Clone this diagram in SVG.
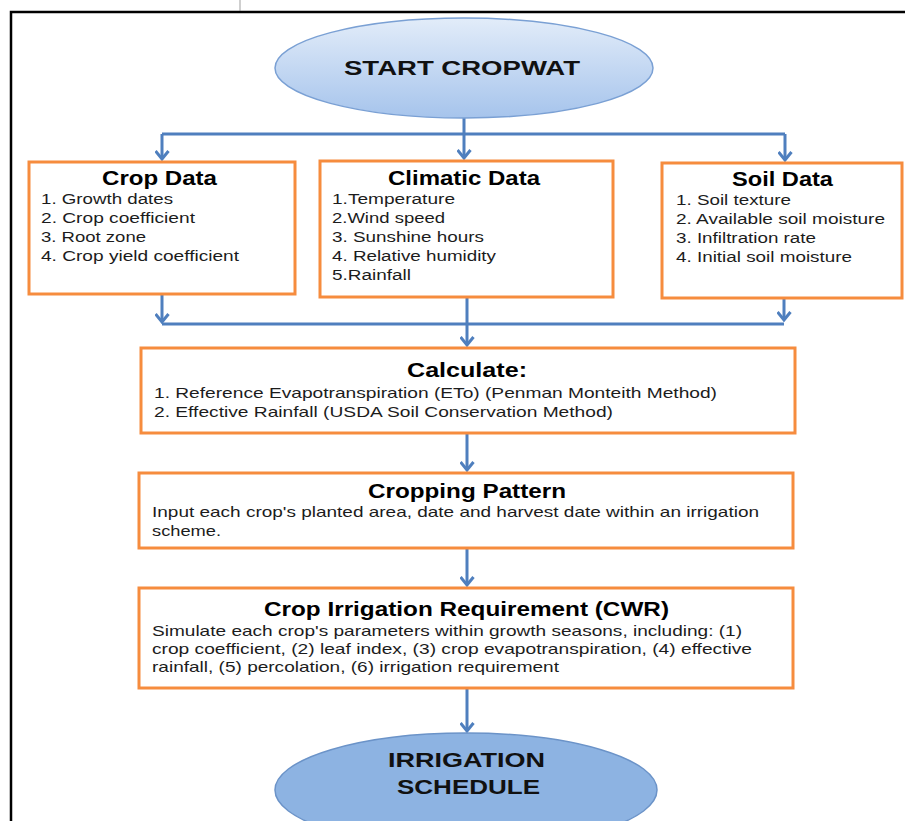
<svg xmlns="http://www.w3.org/2000/svg" width="905" height="821" viewBox="0 0 905 821">
<style>
.box{fill:#ffffff;stroke:#f68c3e;stroke-width:3}
.conn{stroke:#4f7fbe;stroke-width:3;fill:none}
.title{font-family:"Liberation Sans",Arial,sans-serif;font-weight:bold;font-size:20px;fill:#000}
.item{font-family:"Liberation Sans",Arial,sans-serif;font-size:15.5px;fill:#1c1c1c}
.small{font-family:"Liberation Sans",Arial,sans-serif;font-size:15px;fill:#1c1c1c}
.oval{font-family:"Liberation Sans",Arial,sans-serif;font-weight:bold;font-size:21px;fill:#111}
</style>
<defs>
<linearGradient id="g1" x1="0" y1="0" x2="0" y2="1">
<stop offset="0" stop-color="#e2ecf9"/>
<stop offset="1" stop-color="#a6c4ec"/>
</linearGradient>
<marker id="ah" viewBox="0 0 12 15" refX="10" refY="7.5" markerWidth="12" markerHeight="15" markerUnits="userSpaceOnUse" orient="auto">
<path d="M2,1 L10,7.5 L2,14" fill="none" stroke="#4f7fbe" stroke-width="3"/>
</marker>
</defs>
<rect width="905" height="821" fill="#fff"/>
<path d="M11,821 V12 H905" fill="none" stroke="#000" stroke-width="2.5"/>
<line x1="240" y1="0" x2="240" y2="11" stroke="#777" stroke-width="0.7"/>

<g id="connectors">
<path class="conn" d="M464,118 V134 M162,134 H785"/>
<path class="conn" d="M162,134 V159" marker-end="url(#ah)"/>
<path class="conn" d="M464,134 V158" marker-end="url(#ah)"/>
<path class="conn" d="M785,134 V160" marker-end="url(#ah)"/>
<path class="conn" d="M162,294 V322" marker-end="url(#ah)"/>
<path class="conn" d="M784,298 V320" marker-end="url(#ah)"/>
<path class="conn" d="M162,324 H784"/>
<path class="conn" d="M467,297 V345" marker-end="url(#ah)"/>
<path class="conn" d="M467,433 V470" marker-end="url(#ah)"/>
<path class="conn" d="M467,548 V585" marker-end="url(#ah)"/>
<path class="conn" d="M467,688 V731" marker-end="url(#ah)"/>
</g>

<g id="start">
<ellipse cx="464" cy="68" rx="189" ry="50" fill="url(#g1)" stroke="#7aa0d4" stroke-width="1.5"/>
<text class="oval" x="344" y="75" textLength="236" lengthAdjust="spacingAndGlyphs">START CROPWAT</text>
</g>

<g id="crop-data">
<rect class="box" x="29" y="162" width="266" height="132"/>
<text class="title" x="102" y="185" textLength="115" lengthAdjust="spacingAndGlyphs">Crop Data</text>
<text class="item" x="41" y="204" textLength="132" lengthAdjust="spacingAndGlyphs">1. Growth dates</text>
<text class="item" x="41" y="223" textLength="154" lengthAdjust="spacingAndGlyphs">2. Crop coefficient</text>
<text class="item" x="41" y="242" textLength="105" lengthAdjust="spacingAndGlyphs">3. Root zone</text>
<text class="item" x="41" y="261" textLength="198" lengthAdjust="spacingAndGlyphs">4. Crop yield coefficient</text>
</g>

<g id="climatic-data">
<rect class="box" x="320" y="161" width="293" height="136"/>
<text class="title" x="388" y="185" textLength="152" lengthAdjust="spacingAndGlyphs">Climatic Data</text>
<text class="item" x="332" y="204" textLength="123" lengthAdjust="spacingAndGlyphs">1.Temperature</text>
<text class="item" x="332" y="223" textLength="113" lengthAdjust="spacingAndGlyphs">2.Wind speed</text>
<text class="item" x="332" y="242" textLength="152" lengthAdjust="spacingAndGlyphs">3. Sunshine hours</text>
<text class="item" x="332" y="261" textLength="164" lengthAdjust="spacingAndGlyphs">4. Relative humidity</text>
<text class="item" x="332" y="280" textLength="79" lengthAdjust="spacingAndGlyphs">5.Rainfall</text>
</g>

<g id="soil-data">
<rect class="box" x="662" y="163" width="240" height="135"/>
<text class="title" x="732" y="186" textLength="101" lengthAdjust="spacingAndGlyphs">Soil Data</text>
<text class="item" x="676" y="205" textLength="115" lengthAdjust="spacingAndGlyphs">1. Soil texture</text>
<text class="item" x="676" y="224" textLength="209" lengthAdjust="spacingAndGlyphs">2. Available soil moisture</text>
<text class="item" x="676" y="243" textLength="140" lengthAdjust="spacingAndGlyphs">3. Infiltration rate</text>
<text class="item" x="676" y="262" textLength="176" lengthAdjust="spacingAndGlyphs">4. Initial soil moisture</text>
</g>

<g id="calculate">
<rect class="box" x="141" y="348" width="654" height="85"/>
<text class="title" x="407" y="377" textLength="120" lengthAdjust="spacingAndGlyphs">Calculate:</text>
<text class="small" x="154" y="398" textLength="563" lengthAdjust="spacingAndGlyphs">1. Reference Evapotranspiration (ETo) (Penman Monteith Method)</text>
<text class="small" x="154" y="417" textLength="459" lengthAdjust="spacingAndGlyphs">2. Effective Rainfall  (USDA Soil Conservation Method)</text>
</g>

<g id="cropping-pattern">
<rect class="box" x="139" y="473" width="654" height="75"/>
<text class="title" x="368" y="498" textLength="198" lengthAdjust="spacingAndGlyphs">Cropping Pattern</text>
<text class="small" x="152" y="517" textLength="607" lengthAdjust="spacingAndGlyphs">Input each crop's planted  area, date and harvest date within an irrigation</text>
<text class="small" x="152" y="536" textLength="69" lengthAdjust="spacingAndGlyphs">scheme.</text>
</g>

<g id="cwr">
<rect class="box" x="139" y="588" width="654" height="100"/>
<text class="title" x="264" y="616" textLength="405" lengthAdjust="spacingAndGlyphs">Crop Irrigation Requirement (CWR)</text>
<text class="small" x="152" y="636" textLength="590" lengthAdjust="spacingAndGlyphs">Simulate each crop's parameters within growth seasons,  including: (1)</text>
<text class="small" x="152" y="654" textLength="600" lengthAdjust="spacingAndGlyphs">crop coefficient, (2) leaf index, (3) crop evapotranspiration,  (4) effective</text>
<text class="small" x="152" y="672" textLength="407" lengthAdjust="spacingAndGlyphs">rainfall, (5) percolation, (6) irrigation  requirement</text>
</g>

<g id="irrigation-schedule">
<ellipse cx="466" cy="790" rx="191" ry="57" fill="#8db3e2" stroke="#6b93c8" stroke-width="1.5"/>
<text class="oval" x="388" y="767" textLength="157" lengthAdjust="spacingAndGlyphs">IRRIGATION</text>
<text class="oval" x="397" y="794" textLength="143" lengthAdjust="spacingAndGlyphs">SCHEDULE</text>
</g>
</svg>
